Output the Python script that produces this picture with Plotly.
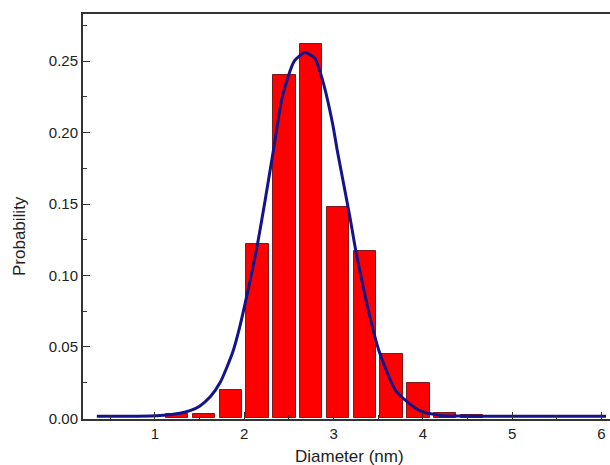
import plotly.graph_objects as go

# Histogram bars (diameter bin centres, nm) and probabilities
bar_x = [1.25, 1.55, 1.85, 2.15, 2.45, 2.75, 3.05, 3.35, 3.65, 3.95, 4.25, 4.55]
bar_y = [0.003, 0.003, 0.020, 0.122, 0.240, 0.262, 0.148, 0.117, 0.045, 0.025, 0.004, 0.002]

# Fitted curve, points
fit_x = [0.35, 0.8, 1.06, 1.28, 1.40, 1.50, 1.62, 1.73, 1.87, 1.95, 2.03, 2.14, 2.23, 2.32, 2.43,
         2.56, 2.68, 2.79, 2.88, 2.99, 3.04, 3.18, 3.25, 3.40, 3.51, 3.70, 3.96, 4.2, 4.6, 6.05]
fit_y = [0.0015, 0.0015, 0.002, 0.0035, 0.0055, 0.0085, 0.015, 0.025, 0.046, 0.064, 0.086,
         0.119, 0.151, 0.185, 0.226, 0.250, 0.256, 0.252, 0.236, 0.206, 0.188, 0.142, 0.117,
         0.073, 0.047, 0.019, 0.0055, 0.002, 0.0015, 0.0015]

x_ticks = [1, 2, 3, 4, 5, 6]
y_ticks = [0.00, 0.05, 0.10, 0.15, 0.20, 0.25]

fig = go.Figure()
fig.add_trace(go.Bar(
    x=bar_x, y=bar_y, width=0.25,
    marker=dict(color="#ff0000", line=dict(color="#7a1a1a", width=1)),
    showlegend=False,
))
fig.add_trace(go.Scatter(
    x=fit_x, y=fit_y, mode="lines",
    line=dict(color="#14148a", width=3, shape="spline", smoothing=0.6),
    showlegend=False,
))

font = dict(family="Liberation Sans, Arial, sans-serif", size=15, color="#222222")

fig.update_layout(
    width=610, height=465,
    margin=dict(l=83, r=0, t=14, b=46),
    paper_bgcolor="white", plot_bgcolor="white",
    font=font,
    bargap=0,
)
fig.update_xaxes(
    range=[0.195, 6.095], automargin=False,
    tickmode="array", tickvals=x_ticks, ticktext=[str(v) for v in x_ticks],
    ticks="inside", ticklen=7, tickwidth=1, tickcolor="#333333",
    minor=dict(dtick=0.5, tick0=0.5, ticks="inside", ticklen=4, tickcolor="#333333"),
    showline=True, linecolor="#333333", linewidth=2, mirror=True,
    showgrid=False, zeroline=False,
    tickfont=dict(size=15),
)
fig.update_yaxes(
    range=[-0.0005, 0.283], automargin=False,
    tickmode="array", tickvals=y_ticks, ticktext=["%.2f" % v for v in y_ticks],
    ticks="inside", ticklen=7, tickwidth=1, tickcolor="#333333",
    minor=dict(dtick=0.05, tick0=0.025, ticks="inside", ticklen=4, tickcolor="#333333"),
    showline=True, linecolor="#333333", linewidth=2, mirror=False,
    showgrid=False, zeroline=False,
    tickfont=dict(size=15),
)

fig.add_annotation(text="Diameter (nm)", xref="paper", yref="paper",
                   x=(349 - 83) / 527, y=-(456 - 419) / 405,
                   showarrow=False, font=dict(size=17), xanchor="center", yanchor="middle")
fig.add_annotation(text="Probability", xref="paper", yref="paper",
                   x=-(83 - 19) / 527, y=(419 - 236) / 405, textangle=-90,
                   showarrow=False, font=dict(size=17), xanchor="center", yanchor="middle")

fig.write_html("out.html", config={"displayModeBar": False},
               post_script="document.body.style.margin='0';document.body.style.overflow='hidden';")
